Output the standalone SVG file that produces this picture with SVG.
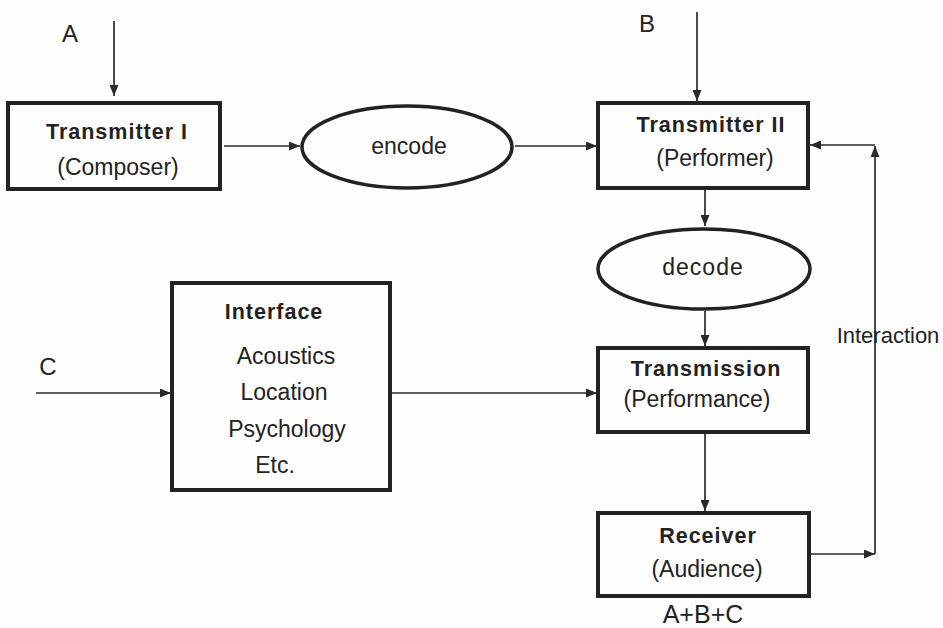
<svg xmlns="http://www.w3.org/2000/svg" width="943" height="628" viewBox="0 0 943 628">
<style>
.box{fill:none;stroke:#222;stroke-width:4}
.ell{fill:none;stroke:#222;stroke-width:3.5}
.ln{fill:none;stroke:#2a2a2a;stroke-width:1.7}
.b{font-family:"Liberation Sans",Arial,sans-serif;font-weight:bold;font-size:21.5px;letter-spacing:1px;fill:#222;text-anchor:middle}
.r{font-family:"Liberation Sans",Arial,sans-serif;font-size:23px;fill:#222;text-anchor:middle}
.L{font-family:"Liberation Sans",Arial,sans-serif;font-size:24px;fill:#222;text-anchor:middle}
</style>
<defs>
<marker id="ah" viewBox="0 0 11 9" refX="11" refY="4.5" markerWidth="11" markerHeight="9" markerUnits="userSpaceOnUse" orient="auto">
<path d="M0,0 L11,4.5 L0,9 Z" fill="#2a2a2a"/>
</marker>
</defs>
<rect width="943" height="628" fill="#fefefe"/>
<g id="connectors">
<line class="ln" x1="114" y1="21" x2="114" y2="96" marker-end="url(#ah)"/>
<line class="ln" x1="697" y1="12" x2="697" y2="101" marker-end="url(#ah)"/>
<line class="ln" x1="224" y1="146" x2="300" y2="146" marker-end="url(#ah)"/>
<line class="ln" x1="515" y1="146" x2="597" y2="146" marker-end="url(#ah)"/>
<line class="ln" x1="705" y1="189" x2="705" y2="226" marker-end="url(#ah)"/>
<line class="ln" x1="705" y1="311" x2="705" y2="346" marker-end="url(#ah)"/>
<line class="ln" x1="705" y1="433" x2="705" y2="511" marker-end="url(#ah)"/>
<line class="ln" x1="36" y1="393" x2="171" y2="393" marker-end="url(#ah)"/>
<line class="ln" x1="391" y1="393" x2="597" y2="393" marker-end="url(#ah)"/>
<line class="ln" x1="810" y1="554" x2="875" y2="554" marker-end="url(#ah)"/>
<line class="ln" x1="875" y1="554" x2="875" y2="146" marker-end="url(#ah)"/>
<line class="ln" x1="875" y1="145" x2="810" y2="145" marker-end="url(#ah)"/>
</g>
<g id="labelA"><text class="L" x="70" y="42">A</text></g>
<g id="labelB"><text class="L" x="647" y="32">B</text></g>
<g id="labelC"><text class="L" x="48" y="375">C</text></g>
<g id="transmitter1">
<rect class="box" x="8" y="103" width="212" height="86"/>
<text class="b" x="117" y="139">Transmitter I</text>
<text class="r" x="118" y="175">(Composer)</text>
</g>
<g id="encode">
<ellipse class="ell" cx="407" cy="147" rx="105" ry="41"/>
<text class="r" x="409" y="154">encode</text>
</g>
<g id="transmitter2">
<rect class="box" x="598" y="103" width="210" height="85"/>
<text class="b" x="711" y="132">Transmitter II</text>
<text class="r" x="715" y="166">(Performer)</text>
</g>
<g id="decode">
<ellipse class="ell" cx="704" cy="269" rx="106" ry="40"/>
<text class="r" x="703" y="275" letter-spacing="1">decode</text>
</g>
<g id="interface">
<rect class="box" x="172" y="283" width="218" height="207"/>
<text class="b" x="274" y="319">Interface</text>
<text class="r" x="286" y="364">Acoustics</text>
<text class="r" x="284" y="400">Location</text>
<text class="r" x="287" y="437">Psychology</text>
<text class="r" x="275" y="473">Etc.</text>
</g>
<g id="transmission">
<rect class="box" x="598" y="348" width="210" height="84"/>
<text class="b" x="706" y="376">Transmission</text>
<text class="r" x="697" y="407">(Performance)</text>
</g>
<g id="interaction"><text class="r" x="888" y="343" style="font-size:22px">Interaction</text></g>
<g id="receiver">
<rect class="box" x="598" y="513" width="211" height="83"/>
<text class="b" x="708" y="543">Receiver</text>
<text class="r" x="707" y="577">(Audience)</text>
</g>
<g id="sum"><text class="L" x="703" y="623" style="font-size:25px">A+B+C</text></g>
</svg>
